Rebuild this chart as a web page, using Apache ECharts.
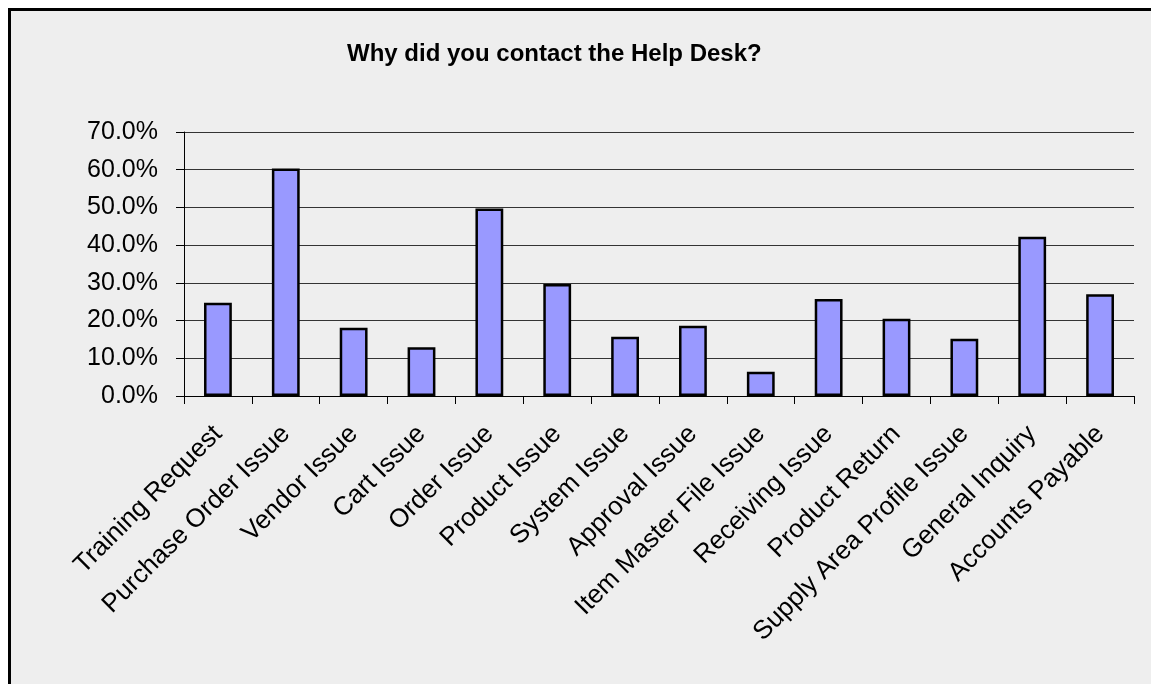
<!DOCTYPE html>
<html>
<head>
<meta charset="utf-8">
<script src="https://cdn.jsdelivr.net/npm/echarts@6/dist/echarts.min.js"></script>
<style>
  html, body { margin: 0; padding: 0; background: #fff; }
  #frame { position: absolute; left: 8px; top: 8px; width: 1200px; height: 720px;
           border: 3px solid #000; background: #eeeeee; }
  #chart { position: absolute; left: 0; top: 0; width: 1151px; height: 684px; }
</style>
</head>
<body>
<div id="frame"></div>
<div id="chart"></div>
<script>
// reasons for contacting the help desk, share of respondents in %
const reasons = [
  'Training Request', 'Purchase Order Issue', 'Vendor Issue', 'Cart Issue',
  'Order Issue', 'Product Issue', 'System Issue', 'Approval Issue',
  'Item Master File Issue', 'Receiving Issue', 'Product Return',
  'Supply Area Profile Issue', 'General Inquiry', 'Accounts Payable'
];
const shares = [24.7, 60.3, 18.1, 12.9, 49.7, 29.7, 15.7, 18.6, 6.4, 25.7, 20.5, 15.2, 42.2, 27.0];

const chart = echarts.init(document.getElementById('chart'));
chart.setOption({
  animation: false,
  textStyle: { fontFamily: 'Liberation Sans, Arial, sans-serif' },
  title: {
    text: 'Why did you contact the Help Desk?',
    left: 342, top: 37,
    textStyle: { fontSize: 24, fontWeight: 'bold', color: '#000' }
  },
  grid: { left: 184, right: 17, top: 132, bottom: 288 },
  xAxis: {
    type: 'category',
    data: reasons,
    axisLine: { lineStyle: { color: '#000', width: 1 } },
    axisTick: { show: true, length: 8, interval: 0, lineStyle: { color: '#000' } },
    axisLabel: { interval: 0, rotate: 45, margin: 34, fontSize: 26, color: '#000' }
  },
  yAxis: {
    type: 'value',
    min: 0, max: 70, interval: 10,
    axisLine: { show: true, lineStyle: { color: '#000', width: 1 } },
    axisTick: { show: true, length: 8, lineStyle: { color: '#000' } },
    axisLabel: { margin: 26, fontSize: 25, color: '#000', formatter: v => v.toFixed(1) + '%' },
    splitLine: { lineStyle: { color: '#333', width: 1 } }
  },
  series: [{
    type: 'bar',
    data: shares,
    barWidth: '41%',
    itemStyle: { color: '#9999ff', borderColor: '#000', borderWidth: 2.5 }
  }]
});
</script>
</body>
</html>
